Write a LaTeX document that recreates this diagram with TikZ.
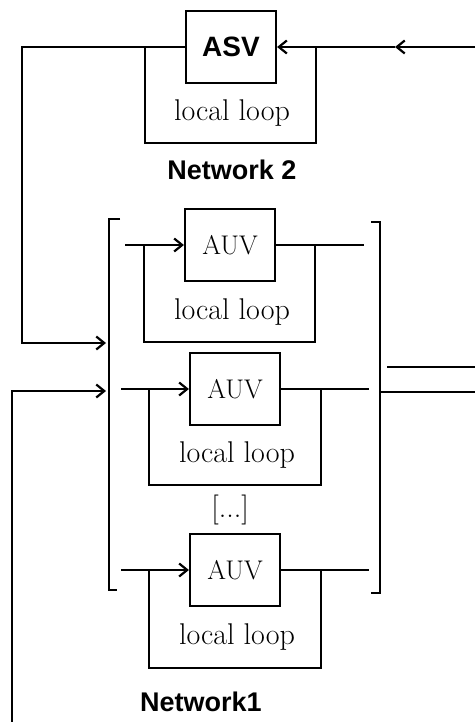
\documentclass[tikz,border=0pt]{standalone}
\usepackage{fontspec}
\newfontfamily\labelfont{Liberation Sans}
\usetikzlibrary{arrows.meta,positioning}

\begin{document}
\begin{tikzpicture}[x=1pt,y=-1pt,line width=2.2pt,
  >={Straight Barb[length=8pt,width=13pt]},
  vehicle/.style={draw,minimum width=90pt,minimum height=72pt,inner sep=0pt,
    font=\fontsize{27}{30}\selectfont},
  looptext/.style={font=\fontsize{30}{33}\selectfont},
  netlabel/.style={font=\labelfont\bfseries\fontsize{27}{30}\selectfont}]
\useasboundingbox (0,0) rectangle (475,722);
% network 2
\node[vehicle,font=\labelfont\bfseries\fontsize{28}{30}\selectfont] (asv) at (231,47) {ASV};
\node[looptext] (asvloop) at (232,113) {local loop};
\node[netlabel] (net2) at (232,170) {Network 2};
\coordinate (asvin) at (475,47);
\coordinate (asvmid) at (395,47);
\coordinate (n1ina) at (106,343);
\draw[->] (asvin) -- (asvmid);
\draw[->] (asvmid) -- (asv.east);
\draw[->] (asv.west) -| (22,343) -- (n1ina);
\draw (145,47) |- (316,143) -- (316,47);
% network 1
\node[vehicle] (auva) at (230,245) {AUV};
\node[vehicle] (auvb) at (235,389) {AUV};
\node[vehicle] (auvc) at (235,570) {AUV};
\node[looptext] (loopa) at (232,312) {local loop};
\node[looptext] (loopb) at (237,455) {local loop};
\node[looptext] (loopc) at (237,637) {local loop};
\node[looptext] (dots) at (230,510) {[...]};
\node[netlabel] (net1) at (201,702) {Network1};
\draw (120,219) -- (109,219) -- (109,590) -- (117,590);
\draw (371,222) -- (380,222) -- (380,593) -- (371,593);
\draw[->] (125,245) -- (auva.west);
\draw (auva.east) -- (364,245);
\draw (144,245) |- (315,342) -- (315,245);
\draw[->] (121,389) -- (auvb.west);
\draw (auvb.east) -- (369,389);
\draw (149,389) |- (321,485) -- (321,389);
\draw[->] (121,570) -- (auvc.west);
\draw (auvc.east) -- (369,570);
\draw (149,570) |- (321,668) -- (321,570);
\coordinate (n1inb) at (106,391);
\coordinate (back) at (12,722);
\draw[->] (back) |- (n1inb);
\draw (387,367) -- (475,367);
\draw (380,392) -- (475,392);
\end{tikzpicture}
\end{document}
